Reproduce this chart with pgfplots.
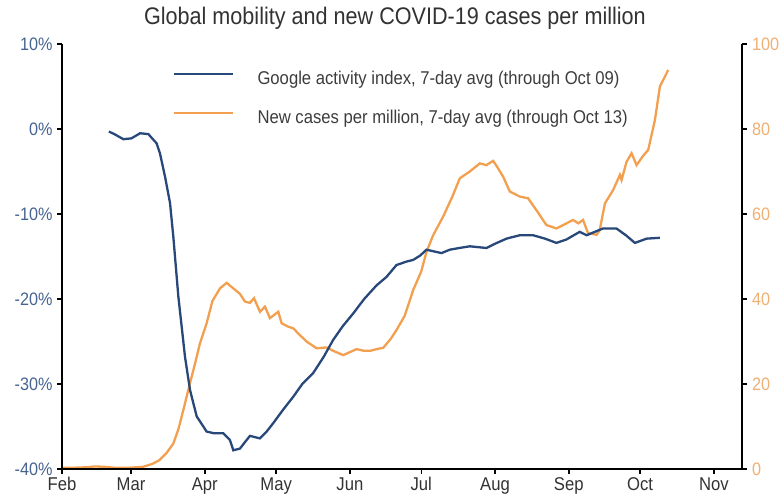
\documentclass[border=0pt]{standalone}
\usepackage{pgfplots}
\pgfplotsset{compat=1.18}
\usepackage{fontspec}
\setmainfont[FakeStretch=0.9]{Liberation Sans}
\definecolor{mobblue}{RGB}{40,72,122}
\definecolor{caseorange}{RGB}{242,160,80}
\definecolor{leftlab}{RGB}{70,100,145}
\definecolor{rightlab}{RGB}{240,175,115}
\definecolor{titlegray}{RGB}{50,50,50}
\definecolor{leggray}{RGB}{60,60,60}
\begin{document}
\begin{tikzpicture}
\useasboundingbox (-62pt,-34pt) rectangle (722pt,469pt);
\pgfplotsset{
  common/.style={
    scale only axis, width=679.5pt, height=425pt,
    at={(0,0)}, anchor=south west,
    xmin=0, xmax=285.6,
    axis line style={line width=2pt, black, -},
    tick style={black, line width=1.5pt},
    major tick length=5pt, tick align=outside,
    /pgf/number format/assume math mode=true,
  }
}
% right axis: new cases
\begin{axis}[common,
  ymin=0, ymax=100,
  axis x line=none, axis y line*=right,
  ytick={0,20,40,60,80,100},
  yticklabel style={font=\fontsize{18}{20}\selectfont, text=rightlab, xshift=2pt},
]
\addplot[caseorange, line width=2.3pt] coordinates {
(0,0.3) (5,0.3) (10,0.4) (14,0.6) (18,0.5) (22,0.3) (28,0.3) (34,0.5) (38,1.2) (41,2.1)
(44,3.8) (46.8,6) (49,9.5) (51,13.9) (53.8,20.2) (56,25) (58,29.6) (60.8,34.3) (63.2,39.5)
(66.4,42.5) (69.2,43.8) (72,42.5) (74.8,41.2) (76.9,39.4) (79,39.1) (80.7,40.2) (83.2,37)
(85.3,38.2) (87.4,35.5) (90.9,37) (92.3,34.3) (95,33.5) (97.2,33.1) (100,31.5) (102.8,30)
(107,28.4) (111.2,28.6) (114,27.8) (118.2,26.8) (121,27.5) (123.8,28.2) (127,27.8)
(129.4,27.8) (133,28.3) (135,28.5) (138,30.5) (140.6,32.7) (144,36) (147.6,42.1) (151,46.5)
(153.2,51.1) (156,55) (160.2,59.4) (164,64) (167.2,68.4) (171.4,70) (175.6,71.9) (178.4,71.5)
(181.2,72.5) (183,71) (185.4,68.8) (188.2,65.3) (192.4,64.1) (195.9,63.7) (199.4,60.9)
(203.6,57.4) (207.8,56.6) (211,57.5) (214.8,58.6) (217,57.8) (219,58.6) (221.1,55.5)
(224.7,55.1) (226,56.2) (228.2,62.5) (231.6,65.6) (234.5,69.2) (235.2,68) (237.3,72.3)
(239.4,74.3) (241.5,71.5) (244,73.5) (246.4,75.1) (249.2,82.1) (251.3,90) (254.8,93.9)
};
\end{axis}
% left axis: mobility
\begin{axis}[common,
  ymin=-40, ymax=10,
  axis x line*=bottom, axis y line*=left,
  ytick={-40,-30,-20,-10,0,10},
  yticklabel={\pgfmathprintnumber{\tick}\%},
  yticklabel style={font=\fontsize{18}{20}\selectfont, text=leftlab, xshift=-1pt},
  xtick={0,29,60,90,121,151,182,213,243,274},
  xticklabels={Feb,Mar,Apr,May,Jun,Jul,Aug,Sep,Oct,Nov},
  xticklabel style={font=\fontsize{18.5}{20}\selectfont, text=titlegray},
  title={Global mobility and new COVID-19 cases per million},
  title style={font=\fontsize{24}{28}\selectfont, text=titlegray, at={(0.49,1)}, anchor=base, yshift=13pt},
  legend style={at={(0.1634,0.9365)}, anchor=north west, draw=none, fill=none, inner sep=0pt,
    font=\fontsize{18.5}{22}\selectfont, text=leggray, row sep=22pt,
    nodes={inner ysep=0pt, inner xsep=0pt, text height=13pt, text depth=4pt},
    /tikz/every odd column/.append style={column sep=23pt}},
  legend cell align=left,
  legend image code/.code={\draw[#1] (0pt,6pt) -- (59pt,6pt);},
]
\addplot[mobblue, line width=2.3pt] coordinates {
(19.7,-0.3) (22,-0.6) (25.8,-1.2) (29.2,-1.1) (32.8,-0.5) (36.3,-0.6) (39.8,-1.7) (41.2,-2.9)
(43.3,-5.6) (45.4,-8.7) (46.8,-12.7) (48.9,-19.7) (51.7,-26.8) (53.8,-30.7) (56.6,-33.8)
(60.8,-35.6) (64,-35.8) (67.8,-35.8) (70.6,-36.6) (72,-37.8) (74.8,-37.6) (77,-36.8) (79,-36.1)
(83.2,-36.4) (86,-35.6) (88.8,-34.6) (93,-33.0) (97.2,-31.5) (101,-30.0) (105.6,-28.7)
(110,-26.8) (114,-24.8) (118,-23.2) (122.4,-21.7) (127,-20.0) (132.2,-18.4) (136.4,-17.4)
(140.6,-16.0) (144.8,-15.6) (147.6,-15.4) (150.5,-14.9) (153.2,-14.2) (159.5,-14.6) (163,-14.2)
(167,-14.0) (171.4,-13.8) (178.4,-14.0) (182,-13.5) (186.8,-12.9) (192.4,-12.5) (198,-12.5)
(203,-12.9) (207.8,-13.4) (212,-13.0) (217.6,-12.1) (220.5,-12.5) (227.4,-11.7) (233,-11.7)
(237,-12.5) (240.8,-13.4) (245.7,-12.9) (251.3,-12.8)
};
\addlegendentry{Google activity index, 7-day avg (through Oct 09)}
\addlegendimage{caseorange, line width=2.3pt}
\addlegendentry{New cases per million, 7-day avg (through Oct 13)}
\end{axis}
\end{tikzpicture}
\end{document}
